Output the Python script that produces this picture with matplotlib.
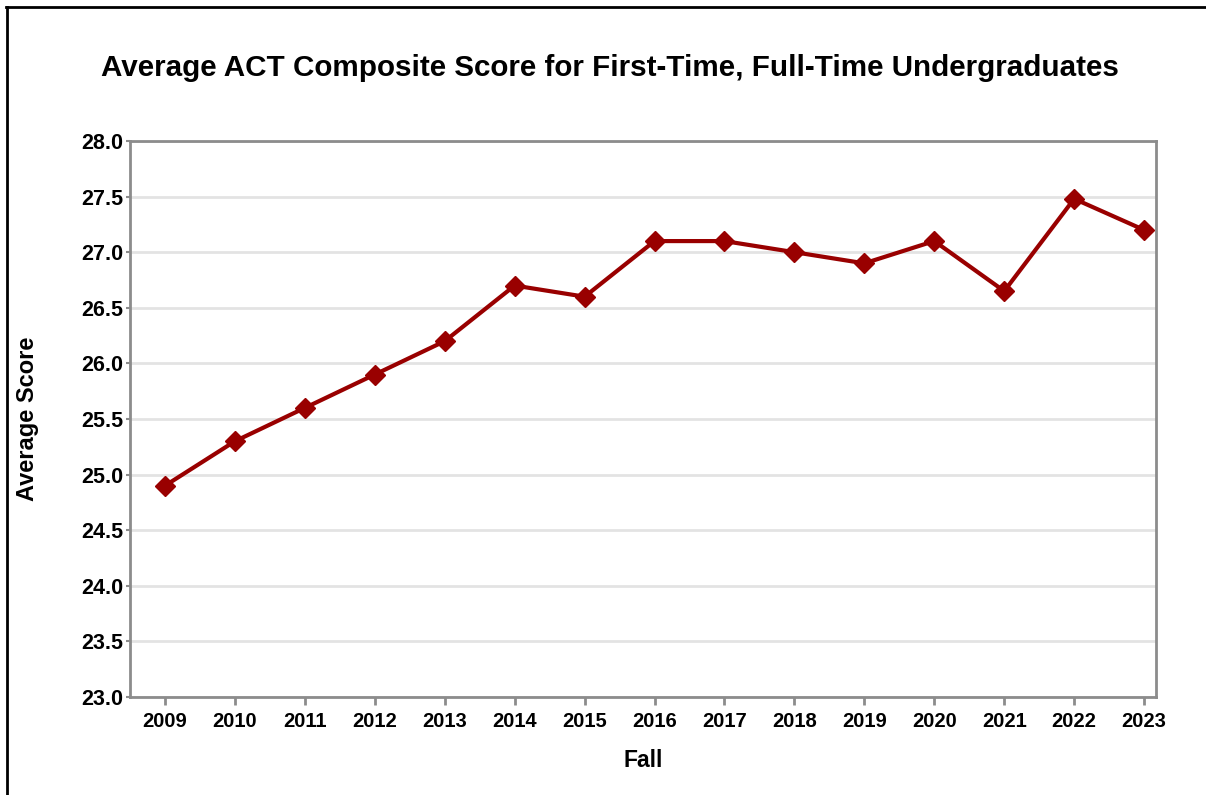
import matplotlib
matplotlib.use("Agg")
import matplotlib.pyplot as plt
from matplotlib.lines import Line2D

# data
years = [2009, 2010, 2011, 2012, 2013, 2014, 2015, 2016,
         2017, 2018, 2019, 2020, 2021, 2022, 2023]
avg_score = [24.9, 25.3, 25.6, 25.9, 26.2, 26.7, 26.6, 27.1,
             27.1, 27.0, 26.9, 27.1, 26.65, 27.48, 27.2]
y_ticks = [23.0, 23.5, 24.0, 24.5, 25.0, 25.5, 26.0, 26.5, 27.0, 27.5, 28.0]

plt.rcParams["font.family"] = ["Liberation Sans", "DejaVu Sans"]
plt.rcParams["font.weight"] = "bold"

W, H = 1206, 795
fig = plt.figure(figsize=(W / 100, H / 100), dpi=100)
fig.patch.set_facecolor("white")

# outer frame: top and left edges only
fig.add_artist(Line2D([7 / W, 7 / W], [0, 1 - 7 / H], transform=fig.transFigure,
                      color="black", lw=2))
fig.add_artist(Line2D([6 / W, 1], [1 - 7 / H, 1 - 7 / H], transform=fig.transFigure,
                      color="black", lw=2))

ax = fig.add_axes([130 / W, 1 - 697 / H, (1156 - 130) / W, (697 - 141) / H])

ax.plot(years, avg_score, color="#990000", lw=3, marker="D", markersize=10,
        markeredgecolor="#990000", zorder=3)

ax.set_xlim(2008.5, 2023.17)
ax.set_ylim(23, 28)
ax.set_xticks(years)
ax.set_xticklabels([str(y) for y in years])
ax.set_yticks(y_ticks)
ax.set_yticklabels([f"{v:.1f}" for v in y_ticks])

ax.grid(axis="y", color="#e3e3e3", lw=2)
ax.set_axisbelow(True)
for s in ax.spines.values():
    s.set_color("#8c8c8c")
    s.set_linewidth(2)

ax.tick_params(axis="x", length=6, width=2, color="#8c8c8c", labelsize=14.5, pad=5)
ax.tick_params(axis="y", length=3, width=1.5, color="#8c8c8c", labelsize=15.5, pad=2)

ax.set_xlabel("Fall", fontsize=16.5, fontweight="bold", labelpad=13)
ax.set_ylabel("Average Score", fontsize=17, fontweight="bold", labelpad=30)

fig.text(610 / W, 1 - 68 / H,
         "Average ACT Composite Score for First-Time, Full-Time Undergraduates",
         ha="center", va="center", fontsize=21.3, fontweight="bold")

fig.savefig("out.png", dpi=100)
